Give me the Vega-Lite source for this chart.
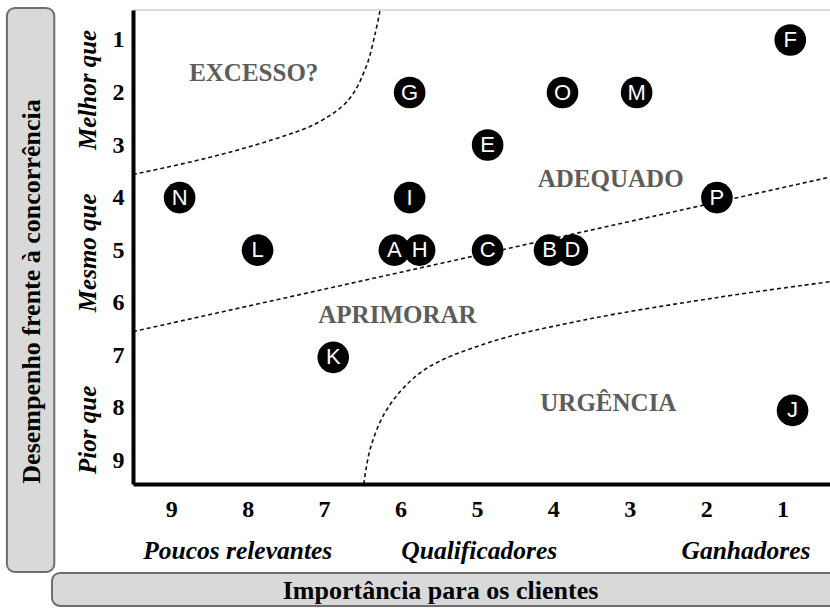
{
  "$schema": "https://vega.github.io/schema/vega-lite/v6.json",
  "width": 697,
  "height": 474,
  "autosize": {"type": "none"},
  "padding": {"left": 133, "top": 10, "right": 0, "bottom": 124},
  "background": "white",
  "config": {
    "view": {"stroke": null},
    "axis": {
      "ticks": false, "grid": false,
      "domainColor": "#000000", "domainWidth": 4,
      "labelFont": "Liberation Serif", "labelFontSize": 24, "labelFontWeight": "bold", "labelColor": "#000000",
      "labelFlush": false, "labelOverlap": false,
      "titleFont": "Liberation Serif", "titleFontSize": 26, "titleFontWeight": "bold", "titleColor": "#000000"
    }
  },
  "datasets": {
    "points": [
      {"label": "F", "x": 0.9, "y": 1.0},
      {"label": "G", "x": 5.88, "y": 2},
      {"label": "O", "x": 3.88, "y": 2},
      {"label": "M", "x": 2.91, "y": 2},
      {"label": "E", "x": 4.86, "y": 3},
      {"label": "N", "x": 8.89, "y": 4},
      {"label": "I", "x": 5.88, "y": 4},
      {"label": "P", "x": 1.86, "y": 4},
      {"label": "L", "x": 7.87, "y": 5},
      {"label": "A", "x": 6.08, "y": 5},
      {"label": "H", "x": 5.75, "y": 5},
      {"label": "C", "x": 4.86, "y": 5},
      {"label": "B", "x": 4.05, "y": 5},
      {"label": "D", "x": 3.75, "y": 5},
      {"label": "K", "x": 6.88, "y": 7.04},
      {"label": "J", "x": 0.87, "y": 8.05}
    ],
    "curves": [
      {"curve": "excesso", "i": 0, "x": 9.5, "y": 3.56},
      {"curve": "excesso", "i": 1, "x": 8.54, "y": 3.25},
      {"curve": "excesso", "i": 2, "x": 7.68, "y": 2.9},
      {"curve": "excesso", "i": 3, "x": 7.09, "y": 2.58},
      {"curve": "excesso", "i": 4, "x": 6.68, "y": 2.14},
      {"curve": "excesso", "i": 5, "x": 6.45, "y": 1.51},
      {"curve": "excesso", "i": 6, "x": 6.33, "y": 0.87},
      {"curve": "excesso", "i": 7, "x": 6.27, "y": 0.45},
      {"curve": "adequado", "i": 0, "x": 9.5, "y": 6.55},
      {"curve": "adequado", "i": 1, "x": 0.38, "y": 3.61},
      {"curve": "urgencia", "i": 0, "x": 6.48, "y": 9.45},
      {"curve": "urgencia", "i": 1, "x": 6.39, "y": 8.75},
      {"curve": "urgencia", "i": 2, "x": 6.16, "y": 7.99},
      {"curve": "urgencia", "i": 3, "x": 5.7, "y": 7.29},
      {"curve": "urgencia", "i": 4, "x": 4.87, "y": 6.77},
      {"curve": "urgencia", "i": 5, "x": 3.6, "y": 6.33},
      {"curve": "urgencia", "i": 6, "x": 1.85, "y": 5.9},
      {"curve": "urgencia", "i": 7, "x": 0.38, "y": 5.6}
    ],
    "regions": [
      {"label": "EXCESSO?", "x": 7.92, "y": 1.63},
      {"label": "ADEQUADO", "x": 3.25, "y": 3.65},
      {"label": "APRIMORAR", "x": 6.04, "y": 6.24},
      {"label": "URGÊNCIA", "x": 3.28, "y": 7.9}
    ],
    "ygroups": [
      {"label": "Melhor que", "x": 10.09, "y": 1.95},
      {"label": "Mesmo que", "x": 10.09, "y": 5.05},
      {"label": "Pior que", "x": 10.09, "y": 8.42}
    ],
    "xgroups": [
      {"label": "Poucos relevantes", "x": 8.13, "y": 10.725},
      {"label": "Qualificadores", "x": 4.97, "y": 10.725},
      {"label": "Ganhadores", "x": 1.48, "y": 10.725}
    ]
  },
  "layer": [
    {
      "data": {"values": [{}]},
      "mark": {"type": "rect", "fill": "#d9d9d9", "stroke": "#6e6e6e", "strokeWidth": 2, "cornerRadius": 8},
      "encoding": {
        "x": {"datum": 11.15, "type": "quantitative", "scale": {"domain": [9.5, 0.38], "nice": false, "zero": false}},
        "x2": {"datum": 10.53},
        "y": {"datum": 0.392, "type": "quantitative", "scale": {"domain": [9.45, 0.43], "nice": false, "zero": false}},
        "y2": {"datum": 11.124}
      }
    },
    {
      "data": {"values": [{}]},
      "mark": {"type": "rect", "fill": "#d9d9d9", "stroke": "#6e6e6e", "strokeWidth": 2, "cornerRadius": 8},
      "encoding": {
        "x": {"datum": 10.56, "type": "quantitative", "scale": {"domain": [9.5, 0.38], "nice": false, "zero": false}},
        "x2": {"datum": 0.184},
        "y": {"datum": 11.143, "type": "quantitative", "scale": {"domain": [9.45, 0.43], "nice": false, "zero": false}},
        "y2": {"datum": 11.77}
      }
    },
    {
      "data": {"values": [{}]},
      "mark": {"type": "rule", "color": "#d0d0d0", "strokeWidth": 1.5},
      "encoding": {
        "x": {"datum": 9.5, "type": "quantitative", "scale": {"domain": [9.5, 0.38], "nice": false, "zero": false}},
        "x2": {"datum": 0.38},
        "y": {"datum": 0.43, "type": "quantitative", "scale": {"domain": [9.45, 0.43], "nice": false, "zero": false}}
      }
    },
    {
      "data": {"name": "curves"},
      "mark": {"type": "line", "color": "#111111", "strokeWidth": 1.6, "strokeDash": [4, 3], "interpolate": "catmull-rom"},
      "encoding": {
        "x": {"field": "x", "type": "quantitative", "scale": {"domain": [9.5, 0.38], "nice": false, "zero": false}},
        "y": {"field": "y", "type": "quantitative", "scale": {"domain": [9.45, 0.43], "nice": false, "zero": false}},
        "detail": {"field": "curve"},
        "order": {"field": "i", "type": "quantitative"}
      }
    },
    {
      "data": {"name": "regions"},
      "mark": {"type": "text", "font": "Liberation Serif", "fontWeight": "bold", "fontSize": 25, "color": "#5c5c5c", "align": "center", "baseline": "middle"},
      "encoding": {
        "x": {"field": "x", "type": "quantitative", "scale": {"domain": [9.5, 0.38], "nice": false, "zero": false}},
        "y": {"field": "y", "type": "quantitative", "scale": {"domain": [9.45, 0.43], "nice": false, "zero": false}},
        "text": {"field": "label"}
      }
    },
    {
      "data": {"name": "points"},
      "mark": {"type": "point", "shape": "circle", "filled": true, "color": "#000000", "opacity": 1, "size": 1000},
      "encoding": {
        "x": {
          "field": "x", "type": "quantitative",
          "scale": {"domain": [9.5, 0.38], "nice": false, "zero": false},
          "axis": {
            "values": [9, 8, 7, 6, 5, 4, 3, 2, 1],
            "format": "d",
            "labelFontSize": 24,
            "labelPadding": 13,
            "title": "Importância para os clientes",
            "titleX": 307, "titleY": 106, "titleAlign": "center", "titleBaseline": "middle",
            "zindex": 1
          }
        },
        "y": {
          "field": "y", "type": "quantitative",
          "scale": {"domain": [9.45, 0.43], "nice": false, "zero": false},
          "axis": {
            "values": [1, 2, 3, 4, 5, 6, 7, 8, 9],
            "format": "d",
            "labelFontSize": 24,
            "labelPadding": 9,
            "title": "Desempenho frente à concorrência",
            "titleAngle": 270, "titleX": -102, "titleY": 281, "titleAlign": "center", "titleBaseline": "middle",
            "zindex": 1
          }
        }
      }
    },
    {
      "data": {"name": "points"},
      "mark": {"type": "text", "font": "Liberation Sans", "fontSize": 22, "color": "#ffffff", "align": "center", "baseline": "middle"},
      "encoding": {
        "x": {"field": "x", "type": "quantitative", "scale": {"domain": [9.5, 0.38], "nice": false, "zero": false}},
        "y": {"field": "y", "type": "quantitative", "scale": {"domain": [9.45, 0.43], "nice": false, "zero": false}},
        "text": {"field": "label"}
      }
    },
    {
      "data": {"name": "ygroups"},
      "mark": {"type": "text", "font": "Liberation Serif", "fontStyle": "italic", "fontWeight": "bold", "fontSize": 25, "color": "#000000", "angle": 270, "align": "center", "baseline": "middle"},
      "encoding": {
        "x": {"field": "x", "type": "quantitative", "scale": {"domain": [9.5, 0.38], "nice": false, "zero": false}},
        "y": {"field": "y", "type": "quantitative", "scale": {"domain": [9.45, 0.43], "nice": false, "zero": false}},
        "text": {"field": "label"}
      }
    },
    {
      "data": {"name": "xgroups"},
      "mark": {"type": "text", "font": "Liberation Serif", "fontStyle": "italic", "fontWeight": "bold", "fontSize": 25.5, "color": "#000000", "align": "center", "baseline": "middle"},
      "encoding": {
        "x": {"field": "x", "type": "quantitative", "scale": {"domain": [9.5, 0.38], "nice": false, "zero": false}},
        "y": {"field": "y", "type": "quantitative", "scale": {"domain": [9.45, 0.43], "nice": false, "zero": false}},
        "text": {"field": "label"}
      }
    }
  ]
}
